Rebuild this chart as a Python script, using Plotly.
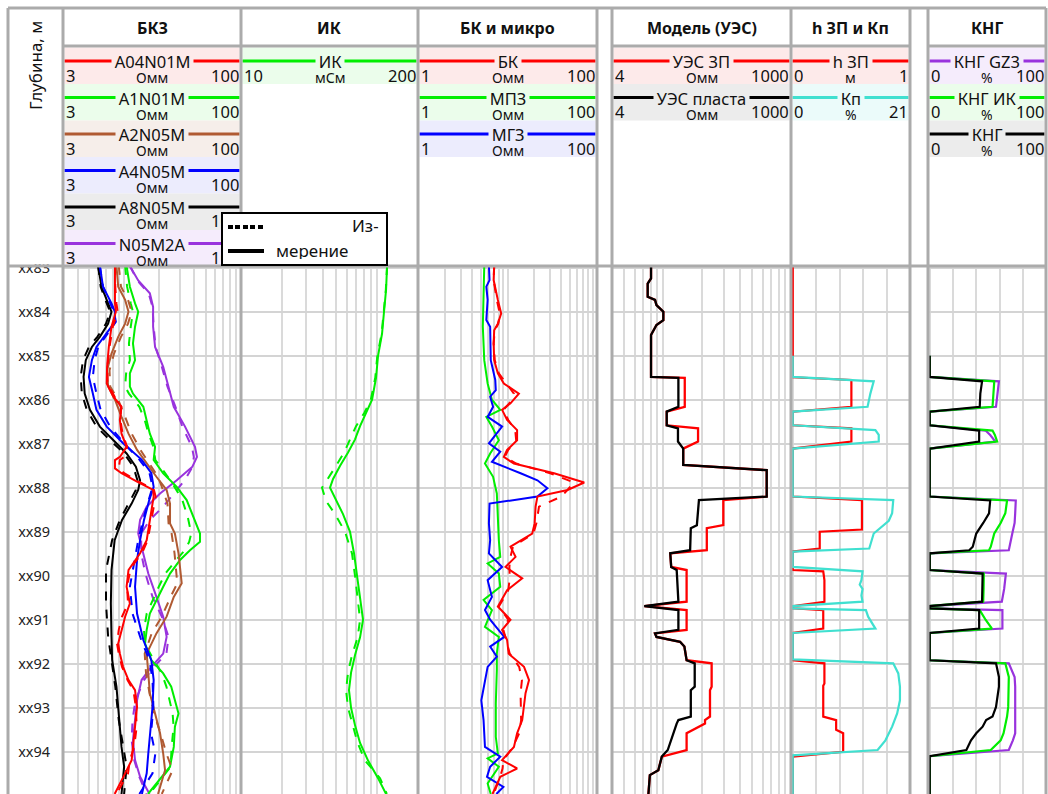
import plotly.graph_objects as go
import math

W, H = 1048, 794
FONT = "Noto Sans, Open Sans, DejaVu Sans, sans-serif"

RED, GREEN, BROWN, BLUE, BLACK, PURPLE, CYAN = "#ff0000", "#00ee00", "#b05a32", "#0000ff", "#000000", "#9933dd", "#40e0d0"
TINT = {RED: "#fdeaea", GREEN: "#ebfdeb", BROWN: "#f6eeea", BLUE: "#ececfd", BLACK: "#ececec", PURPLE: "#f5ecfc", CYAN: "#ebfbfa"}

# ---------------- data ----------------
depth_ticks = [83, 84, 85, 86, 87, 88, 89, 90, 91, 92, 93, 94, 95]
depth_ticktext = ["xx83", "xx84", "xx85", "xx86", "xx87", "xx88", "xx89", "xx90", "xx91", "xx92", "xx93", "xx94", "xx95"]

# БКЗ
a8_d = [82.96, 83.43, 83.73, 84.0, 84.27, 84.57, 84.8, 85.1, 85.48, 85.86, 86.23, 86.61, 86.92, 87.22, 87.52, 87.83, 88.05, 88.36, 88.73, 89.19, 89.87, 90.63, 91.39, 91.92, 92.52, 93.28, 93.89, 94.34, 94.96]
a8_v = [6.0, 6.4, 7.1, 7.8, 7.3, 6.2, 5.3, 4.7, 4.5, 4.6, 5.1, 6.2, 8.1, 10.5, 12.6, 13.7, 13.2, 11.6, 9.6, 8.3, 7.8, 7.7, 7.8, 7.9, 8.6, 9.1, 9.5, 10.0, 9.5]
a8_vm = [6.0, 6.3, 6.9, 7.6, 7.0, 5.9, 5.0, 4.45, 4.25, 4.35, 4.8, 5.8, 7.6, 10.0, 12.0, 13.0, 12.6, 11.0, 9.2, 7.9, 7.0, 7.0, 7.3, 7.8, 8.4, 9.0, 9.9, 10.5, 10.0]

a4_d = [82.96, 83.43, 83.81, 84.0, 84.23, 84.49, 84.8, 85.1, 85.48, 85.86, 86.23, 86.61, 86.99, 87.36, 87.67, 87.98, 88.28, 88.73, 89.19, 89.64, 90.25, 90.86, 91.46, 91.92, 92.37, 92.98, 93.58, 94.04, 94.49, 94.96]
a4_v = [6.2, 6.6, 7.8, 8.35, 8.35, 7.1, 5.8, 5.3, 5.0, 5.4, 5.8, 7.1, 9.8, 14.1, 17.1, 17.9, 16.4, 14.8, 13.7, 12.9, 12.4, 12.9, 14.6, 17.1, 17.9, 17.5, 16.6, 16.1, 15.6, 14.2]
a4_vm = [6.2, 6.6, 7.6, 8.2, 8.5, 7.3, 6.0, 5.6, 5.4, 5.8, 6.3, 7.6, 10.0, 13.5, 16.5, 17.5, 16.2, 14.5, 13.2, 12.3, 11.2, 11.8, 14.0, 16.5, 17.5, 17.8, 17.0, 18.5, 17.5, 13.5]

a04_d = [82.96, 83.43, 83.81, 84.0, 84.34, 84.8, 85.25, 85.63, 85.93, 86.16, 86.46, 86.77, 87.07, 87.3, 87.37, 87.56, 87.67, 87.86, 88.05, 88.2, 88.73, 89.19, 89.49, 89.72, 89.87, 90.25, 90.63, 90.93, 91.23, 91.54, 91.77, 92.07, 92.37, 92.6, 92.98, 93.43, 93.89, 94.19, 94.49, 94.96]
a04_v = [8.35, 8.35, 8.35, 8.5, 7.8, 7.4, 7.15, 7.1, 8.1, 9.5, 9.2, 9.5, 10.5, 9.2, 8.35, 8.35, 9.5, 12.9, 17.7, 17.9, 16.6, 15.6, 13.7, 11.9, 10.9, 10.5, 11.2, 10.2, 9.5, 8.9, 9.2, 9.8, 10.9, 12.4, 12.9, 12.4, 11.9, 11.6, 10.2, 8.3]
a04_vm = [8.35, 8.4, 8.6, 8.8, 8.0, 7.5, 7.2, 7.2, 8.3, 9.4, 9.3, 9.7, 10.6, 10.0, 9.2, 9.0, 10.0, 13.5, 18.0, 18.6, 17.0, 15.9, 14.2, 12.2, 11.3, 10.6, 10.8, 9.6, 9.0, 8.7, 9.0, 9.6, 10.7, 12.0, 12.6, 12.8, 12.2, 11.2, 10.8, 8.6]

a2_d = [82.96, 83.43, 83.73, 84.0, 84.27, 84.57, 84.95, 85.33, 85.7, 86.0, 86.39, 86.77, 87.14, 87.45, 87.75, 88.05, 88.36, 88.81, 89.04, 89.49, 89.87, 90.17, 90.48, 90.93, 91.31, 91.77, 92.22, 92.67, 93.13, 93.58, 94.04, 94.42, 94.96]
a2_v = [8.6, 8.9, 10.2, 10.9, 10.2, 8.9, 7.8, 7.15, 7.3, 8.35, 9.5, 10.9, 12.9, 15.6, 18.9, 23.1, 24.7, 24.7, 27.2, 29.2, 30.1, 31.1, 26.6, 23.1, 18.9, 15.6, 16.1, 16.6, 18.4, 20.3, 21.6, 22.4, 19.5]
a2_vm = [9.0, 9.4, 10.8, 11.6, 10.8, 9.4, 8.2, 7.5, 7.6, 8.9, 10.2, 11.6, 13.8, 16.4, 19.5, 21.5, 23.5, 24.0, 25.5, 27.0, 28.0, 28.5, 25.0, 21.0, 17.2, 15.0, 15.4, 16.5, 18.0, 20.5, 23.0, 26.0, 21.0]

a1_d = [82.96, 83.43, 83.81, 84.0, 84.34, 84.72, 85.1, 85.4, 85.7, 85.86, 86.16, 86.46, 86.77, 87.07, 87.37, 87.67, 87.98, 88.28, 88.66, 89.04, 89.23, 89.42, 89.64, 89.95, 90.25, 90.55, 90.86, 91.23, 91.54, 91.92, 92.22, 92.52, 92.83, 93.13, 93.43, 93.89, 94.34, 94.72, 94.96]
a1_v = [10.5, 11.2, 12.4, 13.2, 12.4, 11.9, 12.4, 11.2, 11.2, 11.9, 14.6, 15.6, 16.6, 18.4, 17.9, 21.6, 28.2, 34.3, 39.0, 44.6, 44.6, 36.6, 30.1, 24.7, 21.6, 18.9, 16.6, 15.6, 15.1, 17.1, 21.6, 25.3, 27.2, 29.2, 27.2, 26.6, 24.7, 18.9, 16.0]
a1_vm = [10.2, 10.6, 11.4, 11.9, 11.4, 11.0, 11.2, 10.4, 10.2, 11.0, 13.5, 15.0, 16.2, 17.8, 18.5, 22.5, 27.0, 31.5, 35.0, 37.5, 36.0, 33.0, 28.0, 22.5, 19.8, 17.5, 15.6, 14.8, 15.0, 18.0, 21.0, 23.0, 24.5, 26.0, 26.5, 25.5, 25.0, 19.5, 16.5]

n05_d = [82.96, 83.29, 83.58, 83.89, 84.34, 84.8, 85.25, 85.7, 86.16, 86.61, 87.07, 87.3, 87.52, 87.83, 88.13, 88.43, 88.73, 89.04, 89.49, 89.95, 90.48, 90.93, 91.39, 91.77, 92.07, 92.37, 92.83, 93.28, 93.74, 94.19, 94.57, 94.96]
n05_v = [11.2, 13.2, 16.6, 17.7, 17.7, 18.4, 21.6, 23.9, 26.6, 33.2, 40.4, 42.0, 38.4, 28.2, 20.3, 15.6, 13.7, 13.2, 14.6, 16.1, 18.9, 21.6, 23.1, 21.6, 17.1, 14.1, 12.9, 12.4, 11.9, 12.4, 13.7, 16.5]
n05_vm = [11.2, 13.0, 16.2, 17.5, 17.9, 18.6, 21.0, 23.5, 27.5, 31.5, 38.0, 39.5, 38.5, 33.0, 26.6, 21.6, 16.6, 14.0, 14.0, 15.2, 17.5, 21.0, 24.0, 23.0, 18.0, 14.8, 12.5, 11.8, 11.6, 12.2, 13.5, 15.5]

# ИК
ik_d = [82.96, 83.5, 84.0, 84.5, 85.0, 85.5, 86.0, 86.3, 86.6, 86.9, 87.2, 87.5, 87.8, 88.0, 88.3, 88.6, 89.0, 89.5, 90.0, 90.5, 91.0, 91.4, 91.8, 92.2, 92.6, 93.0, 93.4, 93.8, 94.2, 94.6, 94.96]
ik_v = [118.5, 116.5, 112.5, 108.8, 101.7, 98.3, 91.9, 83.0, 75.0, 68.9, 61.2, 53.5, 47.5, 45.1, 50.0, 56.2, 63.3, 67.8, 71.3, 75.0, 78.9, 75.0, 68.9, 64.4, 62.2, 64.4, 68.9, 75.0, 85.9, 101.7, 116.5]
ik_vm = [118.5, 116.0, 112.0, 108.0, 100.5, 97.0, 90.0, 80.5, 70.1, 63.5, 57.2, 50.0, 43.6, 39.4, 42.2, 49.1, 58.2, 65.5, 68.9, 72.0, 75.0, 72.0, 65.5, 61.2, 59.2, 61.2, 66.0, 72.0, 81.6, 105.2, 118.0]

# БК и микро
bk_d = [82.96, 83.28, 83.73, 84.04, 84.27, 84.42, 84.72, 85.1, 85.4, 85.63, 85.86, 86.08, 86.23, 86.46, 86.69, 86.92, 87.14, 87.3, 87.45, 87.67, 87.88, 88.05, 88.2, 88.43, 88.81, 89.04, 89.34, 89.57, 89.8, 90.06, 90.33, 90.7, 91.0, 91.23, 91.46, 91.77, 92.07, 92.37, 92.67, 92.98, 93.28, 93.58, 93.89, 94.19, 94.38, 94.57, 94.96]
bk_v = [7.1, 7.0, 7.8, 8.5, 7.8, 7.1, 7.0, 7.1, 7.8, 9.1, 13.4, 10.8, 8.7, 9.9, 12.8, 12.8, 9.9, 9.1, 11.8, 33.1, 72.0, 46.9, 21.6, 20.6, 20.1, 18.9, 10.8, 12.3, 9.5, 14.6, 9.9, 7.8, 10.8, 8.7, 9.9, 10.3, 15.3, 17.4, 15.9, 15.3, 14.6, 12.8, 11.8, 8.7, 12.8, 8.3, 6.8]
bk_vm = [7.1, 7.0, 7.6, 8.2, 7.9, 7.2, 7.0, 7.2, 8.0, 9.8, 11.8, 10.5, 9.0, 10.2, 12.2, 12.5, 10.2, 9.3, 12.5, 30.0, 55.0, 46.9, 40.0, 22.5, 21.0, 19.5, 11.5, 10.8, 10.5, 10.6, 10.2, 8.0, 10.2, 9.0, 9.6, 10.6, 13.5, 14.5, 14.0, 14.0, 14.2, 13.5, 11.5, 9.0, 8.8, 8.3, 7.0]

mpz_d = [82.96, 83.58, 84.34, 85.1, 85.63, 86.0, 86.23, 86.39, 86.61, 86.92, 87.22, 87.45, 87.75, 88.13, 88.73, 89.19, 89.57, 89.72, 89.95, 90.25, 90.55, 90.78, 91.16, 91.39, 91.77, 92.14, 92.9, 93.66, 94.04, 94.15, 94.34, 94.72, 94.96]
mpz_v = [5.5, 5.4, 5.3, 5.5, 6.0, 6.7, 8.3, 5.8, 6.7, 8.0, 6.4, 5.6, 6.9, 7.6, 7.8, 8.0, 8.3, 6.0, 8.0, 8.3, 5.4, 6.7, 5.6, 8.0, 7.6, 7.6, 7.4, 7.4, 7.8, 6.0, 8.0, 6.0, 6.5]

mgz_d = [82.96, 83.28, 83.43, 83.73, 84.19, 84.34, 85.1, 85.55, 85.78, 85.93, 86.16, 86.39, 86.61, 86.99, 87.18, 87.41, 87.67, 87.83, 88.01, 88.2, 88.36, 88.81, 89.19, 89.49, 89.8, 90.1, 90.48, 90.78, 91.0, 91.39, 91.61, 91.84, 92.07, 92.52, 92.83, 93.28, 93.89, 94.11, 94.34, 94.57, 94.8, 94.96]
mgz_v = [6.2, 6.3, 5.8, 6.0, 5.8, 6.4, 6.5, 7.3, 7.4, 6.4, 6.9, 6.0, 8.7, 6.2, 8.3, 6.7, 14.0, 21.6, 27.9, 21.6, 6.3, 6.2, 6.4, 6.2, 8.7, 6.0, 6.7, 5.6, 6.4, 9.2, 6.4, 7.6, 6.0, 5.4, 5.1, 5.4, 5.6, 8.3, 6.4, 5.9, 9.0, 7.5]

# Модель (УЭС)
ues_d = [82.96, 83.24, 83.36, 83.66, 83.73, 83.85, 84.0, 84.19, 84.3, 84.45, 84.53, 85.48, 85.5, 86.16, 86.27, 86.58, 86.65, 86.95, 87.11, 87.48, 87.6, 88.2, 88.28, 88.85, 88.92, 89.42, 89.49, 89.8, 89.87, 90.59, 90.69, 90.78, 91.23, 91.31, 91.39, 91.5, 91.61, 91.92, 91.99, 92.52, 92.6, 93.2, 93.28, 93.36, 93.58, 93.96, 94.11, 94.42, 94.53, 94.96]
ues_plast = [8.07, 8.07, 7.6, 7.6, 8.67, 8.9, 10.07, 10.07, 8.9, 8.4, 8.07, 8.07, 13.2, 13.2, 10.7, 10.7, 13.1, 13.1, 14.4, 14.4, 64.6, 64.6, 19.1, 18.4, 16.5, 16.3, 11.4, 11.6, 12.8, 13.2, 7.15, 13.2, 13.2, 8.67, 8.9, 13.6, 14.7, 15.3, 17.7, 17.7, 16.5, 16.5, 13.2, 12.8, 12.1, 10.9, 9.8, 9.2, 7.9, 7.7]
ues_zp = [8.07, 8.07, 7.6, 7.6, 8.67, 8.9, 10.07, 10.07, 8.9, 8.4, 8.07, 8.07, 14.8, 14.8, 10.7, 10.7, 18.8, 18.8, 14.4, 14.4, 64.6, 64.6, 29.6, 29.6, 22.0, 22.0, 11.4, 11.6, 15.3, 15.3, 7.15, 15.3, 15.3, 8.67, 8.9, 13.6, 14.7, 15.3, 24.0, 24.0, 23.3, 23.3, 21.3, 21.3, 15.3, 15.3, 9.8, 9.2, 7.9, 7.7]

# h ЗП и Кп
hzp_d = [82.96, 85.49, 85.55, 86.16, 86.27, 86.58, 86.65, 86.95, 87.11, 88.2, 88.28, 88.95, 89.0, 89.38, 89.45, 89.87, 89.9, 90.1, 90.59, 90.69, 90.74, 90.78, 91.2, 91.3, 91.92, 91.99, 92.45, 92.5, 93.2, 93.28, 93.5, 93.58, 94.0, 94.11, 94.96]
hzp_v = [0, 0, 0.5, 0.5, 0, 0, 0.5, 0.5, 0, 0, 0.59, 0.59, 0.23, 0.23, 0, 0, 0.26, 0.27, 0.27, 0, 0, 0.26, 0.26, 0, 0, 0.27, 0.27, 0.26, 0.26, 0.37, 0.37, 0.43, 0.43, 0, 0]

kp_d = [85.0, 85.48, 85.58, 85.86, 86.16, 86.27, 86.58, 86.69, 86.8, 86.95, 87.11, 88.2, 88.28, 88.58, 88.75, 89.04, 89.38, 89.45, 89.8, 89.9, 90.1, 90.2, 90.3, 90.45, 90.59, 90.69, 90.74, 90.78, 90.93, 91.2, 91.3, 91.9, 91.99, 92.22, 92.52, 92.83, 93.13, 93.43, 93.74, 93.96, 94.08, 94.96]
kp_v = [0, 0, 14.5, 13.9, 13.4, 0, 0, 14.8, 15.4, 15.4, 0, 0, 18.0, 17.8, 17.2, 14.5, 13.7, 0, 0, 12.5, 12.3, 12.0, 12.5, 12.3, 12.5, 0, 0, 13.1, 13.5, 14.8, 0, 0, 18.0, 18.9, 19.2, 19.2, 18.7, 17.8, 16.6, 15.2, 0, 0]

# КНГ
kng_d = [85.0, 85.48, 85.58, 85.86, 86.16, 86.27, 86.58, 86.7, 86.8, 86.95, 87.11, 88.2, 88.29, 88.58, 88.8, 89.04, 89.34, 89.42, 89.49, 89.87, 89.95, 90.3, 90.59, 90.69, 90.74, 90.78, 91.0, 91.2, 91.3, 91.92, 91.99, 92.3, 92.52, 92.98, 93.2, 93.28, 93.43, 93.58, 93.74, 93.96, 94.1, 94.96]
kng = [0, 0, 45.0, 43.5, 43.0, 0, 0, 42.5, 42.5, 42.5, 0, 0, 52.0, 51.0, 46.0, 40.0, 37.0, 34.0, 0, 0, 45.5, 45.2, 45.0, 0, 0, 42.5, 42.5, 42.5, 0, 0, 57.0, 59.5, 59.5, 57.0, 54.0, 48.5, 45.5, 40.0, 35.5, 31.5, 0, 0]
kng_ik = [0, 0, 55.5, 55.0, 54.0, 0, 0, 54.0, 56.0, 58.0, 0, 0, 66.5, 65.0, 61.0, 55.5, 52.5, 51.0, 0, 0, 46.5, 46.3, 46.0, 0, 0, 43.0, 48.0, 53.5, 0, 0, 65.0, 68.0, 67.8, 67.5, 66.5, 66.0, 65.0, 63.5, 61.0, 52.5, 0, 0]
kng_gz3 = [0, 0, 59.5, 58.0, 57.0, 0, 0, 48.0, 52.0, 56.5, 0, 0, 74.0, 73.5, 73.0, 71.0, 69.0, 68.0, 0, 0, 65.5, 64.0, 62.0, 0, 0, 62.5, 62.5, 62.5, 0, 0, 68.0, 73.0, 73.5, 73.5, 73.5, 73.5, 73.5, 73.5, 71.5, 68.0, 0, 0]

# ---------------- layout geometry (pixels) ----------------
def PX(x):
    return x / W

def PY(y):
    return 1 - y / H

TOP, TITLE_B, HEAD_B = 8, 46, 266
tracks = {
    "bkz": (63, 241), "ik": (241, 418), "bk": (418, 597),
    "ues": (612, 791), "hzp": (791, 910), "kng": (928, 1046),
}
YDOM = [0, PY(HEAD_B)]
YRANGE = [94.96, 82.96]
GRID = "#dadada"

fig = go.Figure()

def add(x, y, color, axis, dash=None, width=2.0):
    xa, ya = axis
    fig.add_trace(go.Scatter(x=x, y=y, mode="lines", xaxis=xa, yaxis=ya,
                             line=dict(color=color, width=width, dash=dash),
                             hoverinfo="skip", showlegend=False))

# БКЗ
for v, vm, d, c in [(n05_v, n05_vm, n05_d, PURPLE), (a1_v, a1_vm, a1_d, GREEN), (a2_v, a2_vm, a2_d, BROWN),
                    (a8_v, a8_vm, a8_d, BLACK), (a4_v, a4_vm, a4_d, BLUE), (a04_v, a04_vm, a04_d, RED)]:
    add(vm, d, c, ("x", "y"), dash="dash")
    add(v, d, c, ("x", "y"))
# ИК
add(ik_vm, ik_d, GREEN, ("x2", "y2"), dash="dash")
add(ik_v, ik_d, GREEN, ("x2", "y2"))
# БК и микро
add(mpz_v, mpz_d, GREEN, ("x3", "y3"))
add(mgz_v, mgz_d, BLUE, ("x3", "y3"))
add(bk_vm, bk_d, RED, ("x3", "y3"), dash="dash")
add(bk_v, bk_d, RED, ("x3", "y3"))
# Модель
add(ues_zp, ues_d, RED, ("x4", "y4"), width=2.3)
add(ues_plast, ues_d, BLACK, ("x4", "y4"), width=2.3)
# h ЗП и Кп
add(hzp_v, hzp_d, RED, ("x5", "y5"), width=2.2)
add(kp_v, kp_d, CYAN, ("x6", "y5"), width=2.2)
# КНГ
add(kng_gz3, kng_d, PURPLE, ("x7", "y7"), width=2.2)
add(kng_ik, kng_d, GREEN, ("x7", "y7"), width=2.2)
add(kng, kng_d, BLACK, ("x7", "y7"), width=2.2)

def xax(dom, **kw):
    base = dict(domain=[PX(dom[0]), PX(dom[1])], showgrid=True, gridcolor=GRID, gridwidth=1.5,
                showticklabels=False, ticks="", zeroline=False, showline=False, fixedrange=True,
                automargin=False)
    base.update(kw)
    return base

def yax(anchor, **kw):
    base = dict(domain=YDOM, range=YRANGE, anchor=anchor, tickmode="array", tickvals=depth_ticks,
                showgrid=True, gridcolor="#d4d4d4", gridwidth=2, zeroline=False, showline=False,
                showticklabels=False, ticks="", fixedrange=True, automargin=False)
    base.update(kw)
    return base

fig.update_layout(
    width=W, height=H, margin=dict(l=0, r=0, t=0, b=0, pad=0, autoexpand=False),
    paper_bgcolor="white", plot_bgcolor="white", showlegend=False,
    font=dict(family=FONT, color="#111"),
    xaxis=xax(tracks["bkz"], type="log", range=[math.log10(3), 2], dtick="D1", anchor="y"),
    xaxis2=xax(tracks["ik"], type="log", range=[1, math.log10(200)], dtick="D1", anchor="y2"),
    xaxis3=xax(tracks["bk"], type="log", range=[0, 2], dtick="D1", anchor="y3"),
    xaxis4=xax(tracks["ues"], type="log", range=[math.log10(4), 2], dtick="D1", anchor="y4"),
    xaxis5=xax(tracks["hzp"], range=[-0.015, 1], tick0=0, dtick=0.2, anchor="y5"),
    xaxis6=dict(overlaying="x5", range=[-0.315, 21], visible=False, anchor="y5", fixedrange=True,
                automargin=False),
    xaxis7=xax(tracks["kng"], range=[-1.5, 100], tick0=0, dtick=20, anchor="y7"),
    yaxis=yax("x", ticktext=depth_ticktext, showticklabels=True, ticks="outside", ticklen=9,
              tickcolor="rgba(0,0,0,0)", tickfont=dict(size=14.5, color="#222", family=FONT)),
    yaxis2=yax("x2", matches="y"),
    yaxis3=yax("x3", matches="y"),
    yaxis4=yax("x4", matches="y"),
    yaxis5=yax("x5", matches="y"),
    yaxis7=yax("x7", matches="y"),
)

shapes, annots = [], []

def rect(x0, y0, x1, y1, fill, line_color=None, lw=0):
    shapes.append(dict(type="rect", xref="paper", yref="paper", layer="above",
                       x0=PX(x0), x1=PX(x1), y0=PY(y1), y1=PY(y0), fillcolor=fill,
                       line=dict(width=lw, color=line_color or fill)))

def hline(x0, x1, y, color, w):
    shapes.append(dict(type="line", xref="paper", yref="paper", layer="above",
                       x0=PX(x0), x1=PX(x1), y0=PY(y), y1=PY(y), line=dict(color=color, width=w)))

def vline(x, y0, y1, color, w):
    shapes.append(dict(type="line", xref="paper", yref="paper", layer="above",
                       x0=PX(x), x1=PX(x), y0=PY(y0), y1=PY(y1), line=dict(color=color, width=w)))

def text(x, y, s, size=16, xanchor="center", bg=None, bold=False, angle=0, color="#111", h=None):
    a = dict(xref="paper", yref="paper", x=PX(x), y=PY(y), text=f"<b>{s}</b>" if bold else s,
             showarrow=False, xanchor=xanchor, yanchor="middle", textangle=angle,
             font=dict(size=size, family=FONT, color=color), borderpad=0)
    if bg:
        a.update(bgcolor=bg)
    if h:
        a.update(height=h)
    annots.append(a)

# white cover for the depth column header (clips the xx83 label)
rect(9.5, 9.5, 61.5, 264.5, "white")

legends = {
    "bkz": [("A04N01M", RED, "3", "100", "Омм"), ("A1N01M", GREEN, "3", "100", "Омм"),
            ("A2N05M", BROWN, "3", "100", "Омм"), ("A4N05M", BLUE, "3", "100", "Омм"),
            ("A8N05M", BLACK, "3", "100", "Омм"), ("N05M2A", PURPLE, "3", "100", "Омм")],
    "ik": [("ИК", GREEN, "10", "200", "мСм")],
    "bk": [("БК", RED, "1", "100", "Омм"), ("МПЗ", GREEN, "1", "100", "Омм"), ("МГЗ", BLUE, "1", "100", "Омм")],
    "ues": [("УЭС ЗП", RED, "4", "1000", "Омм"), ("УЭС пласта", BLACK, "4", "1000", "Омм")],
    "hzp": [("h ЗП", RED, "0", "1", "м"), ("Кп", CYAN, "0", "21", "%")],
    "kng": [("КНГ GZ3", PURPLE, "0", "100", "%"), ("КНГ ИК", GREEN, "0", "100", "%"), ("КНГ", BLACK, "0", "100", "%")],
}
titles = {"bkz": "БКЗ", "ik": "ИК", "bk": "БК и микро", "ues": "Модель (УЭС)", "hzp": "h ЗП и Кп", "kng": "КНГ"}

EH = 36.5
for key, (L, R) in tracks.items():
    text((L + R) / 2, 28, titles[key], size=16, bold=True)
    for i, (name, col, vmin, vmax, unit) in enumerate(legends[key]):
        T = 47.5 + i * EH
        rect(L + 1.5, T, R - 1.5, T + EH, TINT[col])
        hline(L + 1.5, R - 1.5, T + 13.5, col, 3)
        text((L + R) / 2, T + 13.5, "\u2009" + name + "\u2009", size=16.5, bg=TINT[col], h=16)
        text(L + 2, T + 27, vmin, size=16.5, xanchor="left", h=14)
        text(R - 1, T + 27, vmax, size=16.5, xanchor="right", h=14)
        text((L + R) / 2, T + 30.5, unit, size=14, h=13)

# depth column title
text(36, 66, "Глубина, м", size=17, angle=-90)

# borders
BC, BW = "#ababab", 3
for x in [8, 63, 241, 418, 597, 612, 791, 910, 928, 1046]:
    vline(x, TOP, H + 5, BC, BW)
hline(8, 1046, TOP, BC, BW)
hline(8, 1046, HEAD_B, BC, BW)
for key, (L, R) in tracks.items():
    hline(L, R, TITLE_B, BC, BW)

# measurement legend box (drawn as annotations so it sits over header texts)
annots.append(dict(xref="paper", yref="paper", x=PX(304.5), y=PY(239), text=" ", showarrow=False,
                   xanchor="center", yanchor="middle", width=163, height=50, bgcolor="white",
                   bordercolor="black", borderwidth=2, borderpad=0, font=dict(size=10)))
for k in range(5):
    x0 = 228 + k * 7.4
    annots.append(dict(xref="paper", yref="paper", x=PX(x0 + 2.5), y=PY(226.5), text=" ", showarrow=False,
                       xanchor="center", yanchor="middle", width=5, height=4, bgcolor="black",
                       borderpad=0, borderwidth=0, font=dict(size=2)))
annots.append(dict(xref="paper", yref="paper", x=PX(246), y=PY(251.5), text=" ", showarrow=False,
                   xanchor="center", yanchor="middle", width=36, height=4, bgcolor="black",
                   borderpad=0, borderwidth=0, font=dict(size=2)))
text(380, 225, "Из-", size=17, xanchor="right", h=18)
text(275, 250, "мерение", size=17, xanchor="left", h=18)

fig.update_layout(shapes=shapes, annotations=annots)
fig.write_html("out.html", config={"displayModeBar": False},
               post_script="document.body.style.margin='0';document.body.style.overflow='hidden';"
                           "document.documentElement.style.overflow='hidden';")
